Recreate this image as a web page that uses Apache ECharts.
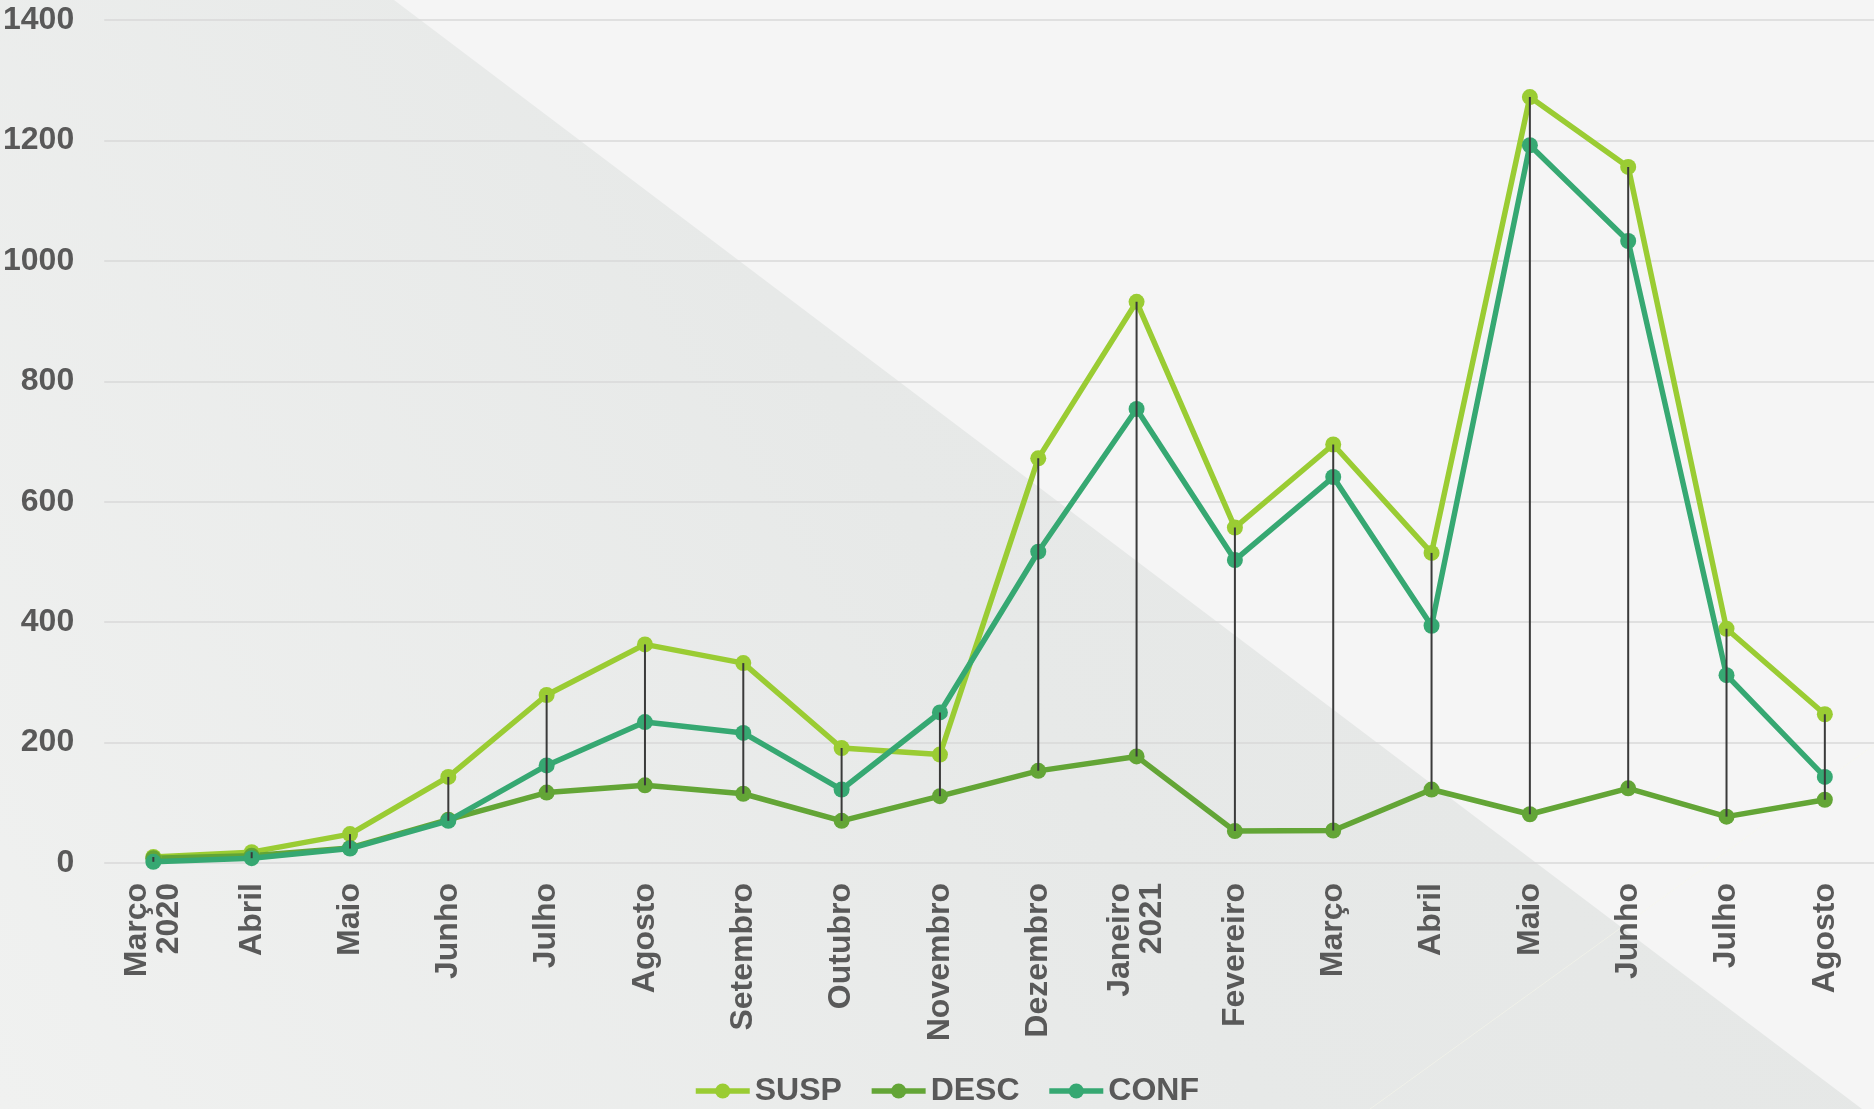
<!DOCTYPE html>
<html>
<head>
<meta charset="utf-8">
<script src="https://cdn.jsdelivr.net/npm/echarts@6/dist/echarts.min.js"></script>
<style>
html,body{margin:0;padding:0;background:#F5F5F5;}
#chart{width:1874px;height:1109px;}
</style>
</head>
<body>
<div id="chart"></div>
<script>
const categories = ['Março\n2020','Abril','Maio','Junho','Julho','Agosto','Setembro','Outubro','Novembro','Dezembro','Janeiro\n2021','Fevereiro','Março','Abril','Maio','Junho','Julho','Agosto'];
const susp = [10,18,48,143,279,363,332,191,180,672,932,557,695,515,1272,1156,389,247];
const desc = [8,12,25,72,117,129,115,70,111,153,177,53,54,122,81,124,77,105];
const conf = [2,8,24,70,162,234,216,122,250,517,754,503,641,394,1192,1033,312,143];
const yTicks = [0,200,400,600,800,1000,1200,1400];

const hiLo = categories.map((c,i)=>[i, Math.max(susp[i],desc[i],conf[i]), Math.min(susp[i],desc[i],conf[i])]);

const textColor = '#595959';
const font = '"Liberation Sans", Arial, sans-serif';

const chart = echarts.init(document.getElementById('chart'), null, {renderer:'canvas'});
chart.setOption({
  backgroundColor: '#F5F5F5',
  animation: false,
  graphic: {
    elements: [
      {
        type: 'polygon', z: -100, silent: true,
        shape: { points: [[0,0],[394,0],[1862,1109],[0,1109]] },
        style: { fill: new echarts.graphic.LinearGradient(1,0,0,1,[{offset:0,color:'#E4E6E5'},{offset:0.5,color:'#E7E9E8'},{offset:1,color:'#F0F1F0'}]) }
      },
      {
        type: 'line', z: -99, silent: true,
        shape: { x1: 1370, y1: 1109, x2: 1874, y2: 745 },
        style: { stroke: 'rgba(250,250,235,0.5)', lineWidth: 1 }
      }
    ]
  },
  grid: { left: 104, right: 0, top: 20, bottom: 246, containLabel: false },
  legend: {
    data: ['SUSP','DESC','CONF'],
    left: 688, top: 1070,
    itemWidth: 54, itemHeight: 19, itemGap: 27,
    lineStyle: { width: 5.5 },
    textStyle: { color: textColor, fontSize: 32, fontWeight: 'bold', fontFamily: font }
  },
  xAxis: {
    type: 'category',
    data: categories,
    boundaryGap: true,
    axisLine: { show: false },
    axisTick: { show: false },
    axisLabel: {
      rotate: 90, interval: 0, margin: 20,
      color: textColor, fontSize: 32, fontWeight: 'bold', fontFamily: font, lineHeight: 32
    }
  },
  yAxis: {
    type: 'value', min: 0, max: 1400, interval: 200,
    axisLine: { show: false },
    axisTick: { show: false },
    splitLine: { lineStyle: { color: '#D9D9D9', width: 1.5 } },
    axisLabel: {
      margin: 30, color: textColor, fontSize: 32, fontWeight: 'bold', fontFamily: font,
      formatter: v => yTicks.includes(v) ? String(v) : ''
    }
  },
  series: [
    {
      name: 'SUSP', type: 'line', data: susp, z: 3,
      symbol: 'circle', symbolSize: 16,
      lineStyle: { color: '#9ACC33', width: 5.5 },
      itemStyle: { color: '#9ACC33' }
    },
    {
      name: 'DESC', type: 'line', data: desc, z: 3,
      symbol: 'circle', symbolSize: 16,
      lineStyle: { color: '#63A536', width: 5.5 },
      itemStyle: { color: '#63A536' }
    },
    {
      name: 'CONF', type: 'line', data: conf, z: 4,
      symbol: 'circle', symbolSize: 16,
      lineStyle: { color: '#36A872', width: 5.5 },
      itemStyle: { color: '#36A872' }
    },
    {
      name: 'hilo', type: 'custom', z: 10, silent: true,
      data: hiLo,
      encode: { x: 0, y: [1,2] },
      renderItem: function(params, api){
        const i = api.value(0);
        const p1 = api.coord([i, api.value(1)]);
        const p2 = api.coord([i, api.value(2)]);
        return { type: 'line', shape: { x1: p1[0], y1: p1[1], x2: p2[0], y2: p2[1] }, style: { stroke: '#3A3A3A', lineWidth: 2 } };
      }
    }
  ]
});
</script>
</body>
</html>
